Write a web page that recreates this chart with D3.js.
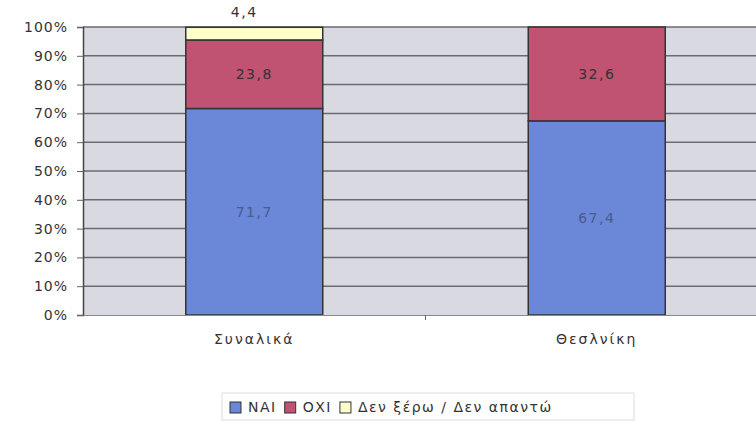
<!DOCTYPE html>
<html>
<head>
<meta charset="utf-8">
<script src="https://cdn.jsdelivr.net/npm/d3@7"></script>
<style>
  body { margin: 0; background: #fff; }
  text { font-family: "DejaVu Sans", sans-serif; }
</style>
</head>
<body>
<svg id="chart" width="756" height="423"></svg>
<script>
var categories = ['Συναλικά', 'Θεσλνίκη'];
var seriesNames = ['ΝΑΙ', 'ΟΧΙ', 'Δεν ξέρω / Δεν απαντώ'];
var naiValues = [71.7, 67.4];
var oxiValues = [23.8, 32.6];
var dkValues = [4.4, 0];
var yTicks = [0, 10, 20, 30, 40, 50, 60, 70, 80, 90, 100];

var colors = ['#6a87d8', '#c05272', '#ffffcc'];
var labelColors = ['#4a5a90', '#333', '#333'];
var FONT = '"DejaVu Sans", sans-serif';

var svg = d3.select('#chart');
var margin = {left: 83, top: 27, right: -12, bottom: 108};
var width = 756 - margin.left - margin.right;
var height = 423 - margin.top - margin.bottom;

var g = svg.append('g')
  .attr('transform', 'translate(' + margin.left + ',' + margin.top + ')');

// build stack rows
var rows = categories.map(function(c, i) {
  return {cat: c, 0: naiValues[i], 1: oxiValues[i], 2: dkValues[i]};
});
var stack = d3.stack().keys([0, 1, 2]);
var layers = stack(rows);

var x = d3.scaleBand()
  .domain(categories)
  .range([0, width])
  .paddingInner(0)
  .paddingOuter(0);

var y = d3.scaleLinear()
  .domain([0, 100])
  .range([height, 0]);

// plot background
g.append('rect')
  .attr('width', width)
  .attr('height', height)
  .attr('fill', '#d9d9e1');

// gridlines
g.selectAll('.grid')
  .data(yTicks.slice(1))
  .enter().append('line')
    .attr('x1', 0)
    .attr('x2', width)
    .attr('y1', function(d) { return y(d); })
    .attr('y2', function(d) { return y(d); })
    .attr('stroke', '#6a6a70')
    .attr('stroke-width', 1.5);

// bars
var barW = x.bandwidth() * 0.4;
layers.forEach(function(layer, k) {
  g.selectAll('.bar' + k)
    .data(layer.filter(function(d) { return d[1] - d[0] > 0; }))
    .enter().append('rect')
      .attr('x', function(d) { return x(d.data.cat) + (x.bandwidth() - barW) / 2; })
      .attr('y', function(d) { return y(d[1]); })
      .attr('width', barW)
      .attr('height', function(d) { return y(d[0]) - y(d[1]); })
      .attr('fill', colors[k])
      .attr('stroke', '#333')
      .attr('stroke-width', 1.5);
});

// value labels
layers.forEach(function(layer, k) {
  g.selectAll('.lab' + k)
    .data(layer.filter(function(d) { return d[1] - d[0] > 0; }))
    .enter().append('text')
      .attr('x', function(d) { return x(d.data.cat) + x.bandwidth() / 2 - (k == 2 ? 10 : 0); })
      .attr('y', function(d) {
        if (k == 2) return y(d[1]) - 10;
        return (y(d[0]) + y(d[1])) / 2 + 5;
      })
      .attr('text-anchor', 'middle')
      .attr('font-size', 14)
      .attr('letter-spacing', 1.5)
      .attr('fill', labelColors[k])
      .text(function(d) { return String(Math.round((d[1] - d[0]) * 10) / 10).replace('.', ','); });
});

// y axis
var yAxis = d3.axisLeft(y)
  .tickValues(yTicks)
  .tickSize(6)
  .tickFormat(function(d) { return d + '%'; });
var ya = g.append('g').call(yAxis);
ya.select('.domain').attr('stroke', '#444').attr('stroke-width', 1.5);
ya.selectAll('.tick line').attr('stroke', '#666');
ya.selectAll('.tick text')
  .attr('font-size', 14)
  .attr('letter-spacing', 1)
  .attr('fill', '#333')
  .attr('x', -15)
  .style('font-family', FONT);

// x axis
var xAxis = d3.axisBottom(x).tickSize(0);
var xa = g.append('g')
  .attr('transform', 'translate(0,' + height + ')')
  .call(xAxis);
xa.select('.domain').attr('stroke', '#888');
xa.selectAll('.tick text')
  .attr('font-size', 14)
  .attr('letter-spacing', 2)
  .attr('fill', '#333')
  .attr('dy', 26)
  .style('font-family', FONT);
// category separator ticks
xa.selectAll('.sep')
  .data(categories)
  .enter().append('line')
    .attr('x1', function(d) { return x(d) + x.bandwidth(); })
    .attr('x2', function(d) { return x(d) + x.bandwidth(); })
    .attr('y1', 0)
    .attr('y2', 5)
    .attr('stroke', '#666');

// legend
var legend = svg.append('g').attr('transform', 'translate(222,393)');
legend.append('rect')
  .attr('width', 412)
  .attr('height', 27)
  .attr('fill', '#fff')
  .attr('stroke', '#ddd');
var lx = 8;
seriesNames.forEach(function(name, k) {
  legend.append('rect')
    .attr('x', lx)
    .attr('y', 9)
    .attr('width', 11)
    .attr('height', 11)
    .attr('fill', colors[k])
    .attr('stroke', '#333');
  var t = legend.append('text')
    .attr('x', lx + 18)
    .attr('y', 19)
    .attr('font-size', 14)
    .attr('letter-spacing', 1.5)
    .attr('fill', '#333')
    .text(name);
  lx += 18 + t.node().getComputedTextLength() + 8;
});
</script>
</body>
</html>
